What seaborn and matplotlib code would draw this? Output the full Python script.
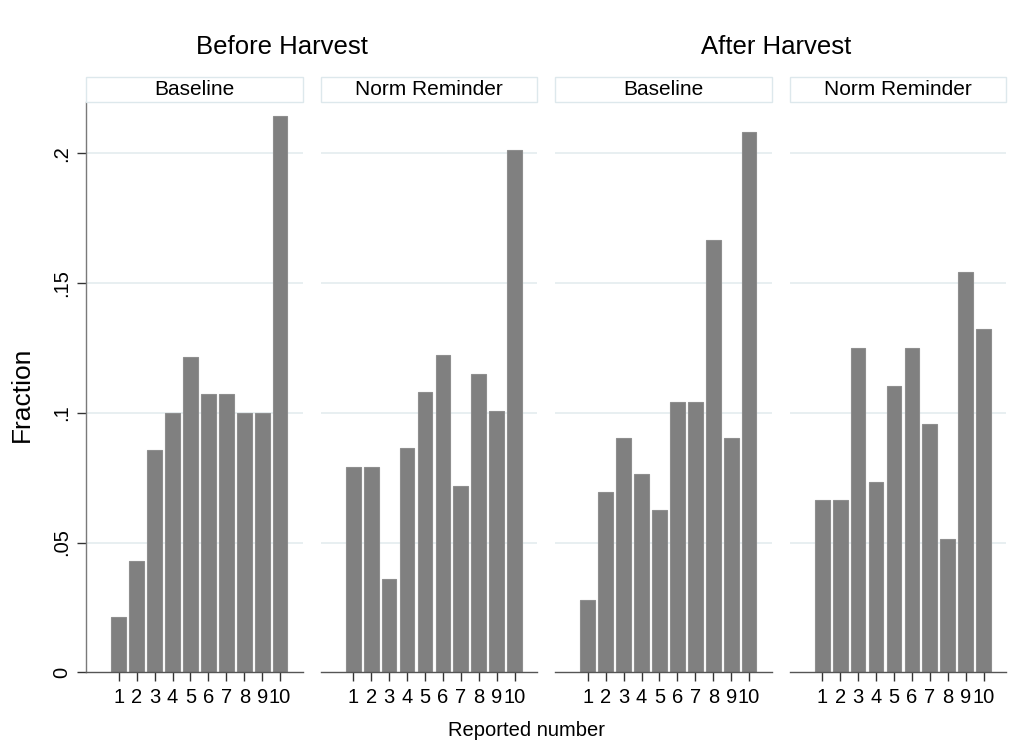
import numpy as np
import pandas as pd
import matplotlib
matplotlib.use("Agg")
import matplotlib.pyplot as plt
import seaborn as sns
from matplotlib.patches import Rectangle

# reported numbers 1..10 and the fraction in each bin
numbers = [1, 2, 3, 4, 5, 6, 7, 8, 9, 10]
before_baseline = [0.0214, 0.0429, 0.0857, 0.1000, 0.1214, 0.1071, 0.1071, 0.1000, 0.1000, 0.2143]
before_norm = [0.0791, 0.0791, 0.0360, 0.0863, 0.1079, 0.1223, 0.0719, 0.1151, 0.1007, 0.2014]
after_baseline = [0.0278, 0.0694, 0.0903, 0.0764, 0.0625, 0.1042, 0.1042, 0.1667, 0.0903, 0.2083]
after_norm = [0.0662, 0.0662, 0.1250, 0.0735, 0.1103, 0.1250, 0.0956, 0.0515, 0.1544, 0.1324]

panel_names = ["Baseline", "Norm Reminder", "Baseline", "Norm Reminder"]
group_titles = ["Before Harvest", "After Harvest"]
yticks = [0, 0.05, 0.1, 0.15, 0.2]
ytick_labels = ["0", ".05", ".1", ".15", ".2"]

sns.set_style("white")
plt.rcParams['font.family'] = ['Liberation Sans', 'DejaVu Sans']
plt.rcParams['text.color'] = 'black'
plt.rcParams['xtick.color'] = '#333333'
plt.rcParams['ytick.color'] = '#333333'
plt.rcParams['xtick.labelcolor'] = 'black'
plt.rcParams['ytick.labelcolor'] = 'black'

W, H = 1030, 747
fig = plt.figure(figsize=(W / 100, H / 100), dpi=100)

bar_color = '#808080'
grid_color = '#e6eef0'
box_edge = '#dde8ec'

lefts = [86, 320.5, 555, 789.5]
pw = 216.5
ax_bottom = 672.3
ax_top = 102

series = [before_baseline, before_norm, after_baseline, after_norm]

for i, vals in enumerate(series):
    ax = fig.add_axes([lefts[i] / W, (H - ax_bottom) / H, pw / W, (ax_bottom - ax_top) / H])
    df = pd.DataFrame({"number": numbers, "fraction": vals})
    sns.barplot(data=df, x="number", y="fraction", native_scale=True, width=0.82,
                color=bar_color, saturation=1, edgecolor='#8e8e8e', linewidth=0.8, ax=ax)
    ax.set_xlim(-0.83, 11.25)
    ax.set_ylim(0, 0.2197)
    ax.set_xticks(numbers)
    ax.set_xticklabels([str(n) for n in numbers], fontsize=14.5)
    ax.set_xlabel("")
    ax.set_ylabel("")
    ax.set_yticks(yticks)
    ax.set_axisbelow(True)
    ax.yaxis.grid(True, color=grid_color, linewidth=1.3)
    for y in ax.get_ygridlines()[:1]:
        y.set_visible(False)
    for s in ['top', 'right']:
        ax.spines[s].set_visible(False)
    ax.spines['bottom'].set_color('#555555')
    ax.spines['bottom'].set_linewidth(1.0)
    ax.tick_params(axis='x', length=6.5, width=1, pad=5, direction='out', bottom=True)
    if i == 0:
        ax.set_yticklabels(ytick_labels, fontsize=14.5, rotation=90, va='center')
        ax.spines['left'].set_color('#7a7a7a')
        ax.spines['left'].set_linewidth(1.0)
        ax.tick_params(axis='y', length=6.5, width=1, pad=4, direction='out', left=True)
    else:
        ax.spines['left'].set_visible(False)
        ax.tick_params(axis='y', left=False, labelleft=False)

    # header strip above each panel
    box = Rectangle((lefts[i] / W, (H - 101.5) / H), pw / W, 24.8 / H, transform=fig.transFigure,
                    facecolor='white', edgecolor=box_edge, linewidth=1.0)
    fig.add_artist(box)
    fig.text((lefts[i] + pw / 2) / W, (H - 89.5) / H, panel_names[i], ha='center', va='center', fontsize=15)

fig.text(282 / W, (H - 47) / H, group_titles[0], ha='center', va='center', fontsize=18.5)
fig.text(776.5 / W, (H - 47) / H, group_titles[1], ha='center', va='center', fontsize=18.5)
fig.text(22 / W, (H - 394.5) / H, "Fraction", rotation=90, ha='center', va='center', fontsize=19)
fig.text(526 / W, (H - 731) / H, "Reported number", ha='center', va='center', fontsize=14.5)

fig.savefig("out.png", dpi=100, facecolor='white')
